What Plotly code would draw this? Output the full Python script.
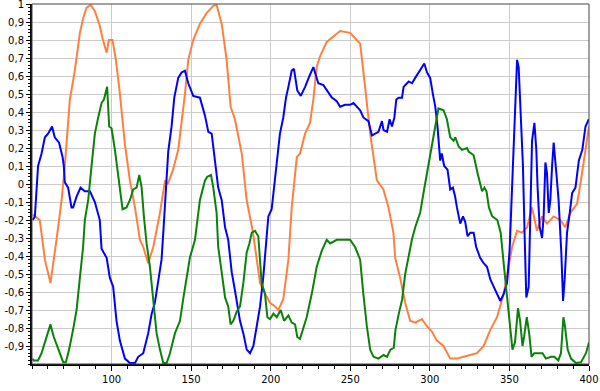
import plotly.graph_objects as go

# ---- data ----
orange_x = [50.5, 51.8, 54.9, 58.1, 61.6, 65.4, 68.6, 70.6, 73.8, 76.9, 80.1, 82.1, 84.3, 87.0, 89.5, 92.6,
            94.3, 96.9, 98.3, 100.6, 102.7, 105.0, 108.4, 111.5, 114.7, 117.8, 119.9, 123.0, 126.2, 130.4,
            133.6, 135.4, 138.6, 141.9, 144.0, 146.1, 148.2, 151.3, 155.5, 159.7, 163.9, 166.0, 169.2,
            172.3, 174.8, 177.5, 181.8, 184.9, 188.7, 193.3, 196.4, 199.6, 202.7, 204.8, 207.9, 211.1,
            213.2, 216.4, 218.4, 221.6, 224.7, 226.8, 228.9, 231.0, 235.2, 239.4, 243.6, 249.9, 253.0,
            256.2, 259.3, 262.5, 266.7, 270.8, 274.0, 277.1, 278.2, 281.3, 284.5, 287.6, 290.8, 295.0,
            298.1, 301.3, 304.4, 308.6, 312.8, 317.0, 321.2, 325.4, 329.6, 333.8, 338.0, 342.2, 346.4,
            349.5, 351.7, 354.8, 357.9, 361.1, 364.2, 367.3, 370.5, 373.6, 377.8, 382.0, 385.1, 388.3,
            392.5, 394.6, 397.7, 400.0]
orange_y = [-0.17, -0.18, -0.2, -0.42, -0.55, -0.31, -0.09, 0.1, 0.47, 0.63, 0.84, 0.92, 0.98, 0.995, 0.96, 0.88,
            0.81, 0.73, 0.8, 0.8, 0.69, 0.52, 0.22, 0.02, -0.13, -0.31, -0.35, -0.44, -0.35, -0.16,
            0.02, 0.0, 0.08, 0.19, 0.34, 0.5, 0.69, 0.8, 0.89, 0.95, 0.99, 0.995, 0.89,
            0.69, 0.43, 0.36, 0.17, -0.09, -0.26, -0.55, -0.61, -0.66, -0.68, -0.7, -0.64, -0.42,
            -0.13, 0.15, 0.17, 0.28, 0.34, 0.47, 0.65, 0.71, 0.79, 0.82, 0.85, 0.84, 0.81,
            0.78, 0.54, 0.28, 0.02, -0.03, -0.13, -0.27, -0.41, -0.52, -0.66, -0.76, -0.77, -0.75,
            -0.79, -0.82, -0.87, -0.9, -0.97, -0.97, -0.96, -0.95, -0.94, -0.9, -0.81, -0.74, -0.61,
            -0.46, -0.35, -0.26, -0.27, -0.24, -0.13, -0.26, -0.18, -0.22, -0.18, -0.2, -0.24, -0.16,
            -0.11, 0.0, 0.17, 0.32]

blue_x = [50.5, 51.8, 53.8, 56.0, 58.1, 60.1, 62.6, 64.3, 67.0, 69.2, 70.0, 70.6, 72.7, 74.8, 75.8, 78.0,
          80.5, 83.2, 86.4, 89.5, 92.6, 93.7, 96.9, 98.9, 101.0, 103.1, 105.2, 108.4, 111.5, 114.7, 116.7,
          119.9, 123.0, 125.2, 127.2, 129.3, 131.4, 132.5, 134.6, 135.6, 137.7, 139.4, 141.9, 144.0, 146.1,
          148.2, 151.3, 155.5, 158.7, 160.8, 162.9, 165.0, 167.0, 169.2, 171.3, 173.3, 175.5, 177.5, 180.7,
          182.8, 184.9, 187.0, 189.1, 191.2, 193.3, 195.3, 197.5, 198.5, 200.6, 202.1, 203.8, 205.8, 207.9,
          209.6, 211.1, 213.2, 214.6, 216.7, 218.9, 221.6, 224.3, 226.8, 228.5, 229.9, 233.1, 235.2, 238.4,
          241.5, 243.6, 246.7, 249.9, 252.0, 254.1, 256.2, 258.2, 261.4, 263.6, 265.6, 267.7, 269.9, 270.9,
          273.1, 274.7, 276.2, 277.7, 278.9, 280.4, 282.5, 283.5, 286.7, 288.8, 290.8, 292.9, 295.0, 296.5,
          298.2, 300.2, 301.9, 303.4, 304.8, 306.5, 307.5, 309.0, 311.1, 312.8, 314.5, 315.9, 317.0, 319.1,
          320.8, 322.2, 323.7, 325.4, 327.5, 329.1, 331.6, 333.8, 335.9, 338.0, 340.1, 342.2, 344.3, 346.4,
          348.5, 350.1, 351.6, 352.7, 353.7, 354.8, 355.8, 357.3, 358.5, 359.5, 360.6, 362.1, 363.2, 364.2,
          365.7, 366.9, 367.7, 369.0, 370.5, 371.5, 372.6, 373.6, 374.7, 375.7, 376.8, 377.8, 379.5, 380.9,
          382.6, 383.7, 384.7, 386.2, 387.9, 389.4, 391.5, 393.6, 395.8, 397.8, 399.9]
blue_y = [-0.2, -0.18, 0.1, 0.17, 0.26, 0.28, 0.32, 0.26, 0.23, 0.15, 0.1, 0.01, -0.02, -0.13, -0.13, -0.07,
          -0.02, -0.04, -0.04, -0.1, -0.2, -0.36, -0.41, -0.52, -0.57, -0.76, -0.87, -0.97, -0.995, -0.995, -0.96,
          -0.94, -0.83, -0.72, -0.66, -0.53, -0.42, -0.27, 0.0, 0.18, 0.32, 0.48, 0.59, 0.62, 0.63,
          0.56, 0.49, 0.48, 0.38, 0.29, 0.28, 0.12, -0.02, -0.09, -0.24, -0.31, -0.49, -0.59, -0.76,
          -0.83, -0.92, -0.94, -0.9, -0.79, -0.68, -0.52, -0.27, -0.18, -0.14, -0.02, 0.13, 0.28, 0.37,
          0.48, 0.54, 0.63, 0.64, 0.52, 0.49, 0.54, 0.6, 0.65, 0.6, 0.56, 0.55, 0.52, 0.48,
          0.46, 0.43, 0.44, 0.44, 0.45, 0.43, 0.41, 0.37, 0.35, 0.27, 0.28, 0.29, 0.35, 0.3,
          0.29, 0.36, 0.32, 0.37, 0.47, 0.48, 0.48, 0.54, 0.57, 0.56, 0.59, 0.62, 0.65, 0.67,
          0.62, 0.59, 0.5, 0.43, 0.32, 0.13, 0.17, 0.1, 0.08, -0.03, -0.02, -0.07, -0.13, -0.22,
          -0.18, -0.21, -0.29, -0.27, -0.27, -0.35, -0.41, -0.44, -0.46, -0.53, -0.57, -0.61, -0.65, -0.61,
          -0.55, -0.37, -0.03, 0.28, 0.5, 0.69, 0.65, 0.39, 0.1, -0.27, -0.63, -0.57, -0.16, 0.24,
          0.34, 0.19, -0.02, -0.24, -0.3, -0.18, 0.12, 0.06, -0.16, -0.09, 0.1, 0.23, 0.06, -0.09,
          -0.38, -0.65, -0.53, -0.27, -0.16, -0.05, -0.02, 0.13, 0.19, 0.32, 0.36]

green_x = [50.5, 51.1, 53.8, 56.0, 58.1, 60.1, 61.6, 63.7, 66.4, 69.6, 71.3, 73.3, 75.8, 78.0, 80.1, 82.1,
           83.2, 85.3, 87.4, 89.5, 91.6, 93.7, 95.2, 97.2, 98.5, 100.0, 102.1, 104.2, 105.2, 106.9, 109.4,
           111.5, 113.6, 115.7, 117.4, 118.9, 120.3, 122.0, 124.1, 126.2, 128.3, 130.4, 132.5, 134.6, 136.7,
           139.8, 143.0, 145.0, 147.2, 149.2, 152.4, 155.5, 158.7, 160.1, 162.5, 163.9, 166.0, 167.0, 169.2,
           171.3, 173.3, 174.8, 176.5, 178.6, 180.7, 182.8, 184.9, 186.6, 188.1, 190.1, 192.2, 193.3, 194.3,
           196.4, 197.9, 199.6, 201.7, 203.8, 206.3, 208.4, 211.1, 213.2, 215.3, 216.7, 218.4, 222.6, 225.8,
           228.9, 232.1, 235.2, 237.3, 241.5, 249.9, 253.0, 256.2, 258.2, 260.4, 262.5, 264.6, 267.7, 270.9,
           273.1, 275.2, 277.3, 278.4, 280.5, 282.6, 284.5, 286.5, 288.7, 290.8, 293.9, 296.0, 298.1, 300.2,
           302.3, 304.4, 305.4, 308.6, 310.7, 312.8, 314.9, 316.0, 318.0, 320.2, 323.3, 324.4, 327.5, 330.0,
           332.8, 334.3, 335.6, 337.1, 339.2, 342.4, 344.5, 346.6, 348.7, 350.8, 351.9, 353.5, 355.4, 356.7,
           358.2, 359.2, 360.9, 362.4, 363.9, 365.6, 370.8, 372.9, 376.1, 378.2, 380.7, 382.4, 383.9, 384.9,
           386.6, 388.7, 391.8, 395.0, 398.1, 400.0]
green_y = [-0.97, -0.98, -0.98, -0.94, -0.88, -0.83, -0.78, -0.85, -0.92, -0.99, -0.99, -0.92, -0.81, -0.7, -0.52, -0.35,
           -0.2, -0.09, 0.1, 0.28, 0.37, 0.45, 0.47, 0.54, 0.32, 0.31, 0.19, 0.04, -0.03, -0.14, -0.13,
           -0.09, -0.03, -0.02, 0.05, -0.02, -0.18, -0.33, -0.46, -0.64, -0.83, -0.92, -0.995, -0.995, -0.94,
           -0.83, -0.76, -0.64, -0.52, -0.41, -0.31, -0.09, 0.02, 0.04, 0.05, -0.02, -0.16, -0.35, -0.49,
           -0.63, -0.68, -0.78, -0.76, -0.71, -0.68, -0.55, -0.38, -0.33, -0.27, -0.26, -0.29, -0.42, -0.55,
           -0.61, -0.74, -0.75, -0.72, -0.74, -0.7, -0.76, -0.73, -0.77, -0.78, -0.85, -0.86, -0.74, -0.61,
           -0.46, -0.37, -0.31, -0.33, -0.31, -0.31, -0.35, -0.42, -0.61, -0.79, -0.92, -0.96, -0.97, -0.95,
           -0.96, -0.92, -0.91, -0.81, -0.72, -0.64, -0.5, -0.41, -0.31, -0.24, -0.16, -0.05, 0.06, 0.17,
           0.28, 0.39, 0.42, 0.41, 0.36, 0.26, 0.24, 0.26, 0.21, 0.19, 0.2, 0.18, 0.16, 0.06,
           -0.04, -0.02, -0.04, -0.13, -0.18, -0.2, -0.27, -0.46, -0.64, -0.83, -0.92, -0.88, -0.69, -0.76,
           -0.9, -0.85, -0.74, -0.83, -0.96, -0.94, -0.94, -0.97, -0.96, -0.96, -0.98, -0.94, -0.74, -0.79,
           -0.92, -0.97, -0.995, -0.99, -0.94, -0.88]

y_tickvals = [1, 0.9, 0.8, 0.7, 0.6, 0.5, 0.4, 0.3, 0.2, 0.1, 0, -0.1, -0.2, -0.3, -0.4, -0.5, -0.6, -0.7, -0.8, -0.9]
y_ticktext = ["1", "0,9", "0,8", "0,7", "0,6", "0,5", "0,4", "0,3", "0,2", "0,1", "0",
              "-0,1", "-0,2", "-0,3", "-0,4", "-0,5", "-0,6", "-0,7", "-0,8", "-0,9"]
x_tickvals = [100, 150, 200, 250, 300, 350, 400]

fig = go.Figure()
for xs, ys, col in [(orange_x, orange_y, "#ff7f3f"), (blue_x, blue_y, "#0000ff"), (green_x, green_y, "#0a820a")]:
    fig.add_trace(go.Scatter(x=xs, y=ys, mode="lines", line=dict(color=col, width=2), hoverinfo="skip"))

fig.update_layout(
    width=600, height=391,
    margin=dict(l=32, r=11, t=4, b=27, autoexpand=False),
    paper_bgcolor="white", plot_bgcolor="white",
    showlegend=False,
    font=dict(family="DejaVu Sans", size=10, color="#000000"),
)
fig.update_xaxes(
    range=[50, 400.001], tickvals=x_tickvals, ticks="outside", ticklen=5, tickcolor="#000",
    showgrid=True, gridcolor="#cccccc", gridwidth=1, ticklabeloverflow="allow",
    showline=True, linecolor="#000", linewidth=2, zeroline=False, automargin=False,
    minor=dict(dtick=10, tick0=0, ticks="outside", ticklen=3, tickcolor="#000", showgrid=False),
)
fig.update_yaxes(
    range=[-1, 1.0005], tickvals=y_tickvals, ticktext=y_ticktext, ticks="outside", ticklen=4, tickcolor="#000",
    showgrid=True, gridcolor="#cccccc", gridwidth=1, ticklabeloverflow="allow",
    showline=True, linecolor="#000", linewidth=2, zeroline=False, automargin=False,
    minor=dict(dtick=0.02, tick0=0, ticks="outside", ticklen=2, tickcolor="#000", showgrid=False),
)
fig.add_shape(type="rect", xref="paper", yref="paper", x0=0, y0=0, x1=1, y1=1,
              line=dict(color="#444444", width=1), layer="above")
fig.write_html("out.html", config={"displayModeBar": False},
               post_script="document.body.style.margin='0';document.body.style.overflow='hidden';")
